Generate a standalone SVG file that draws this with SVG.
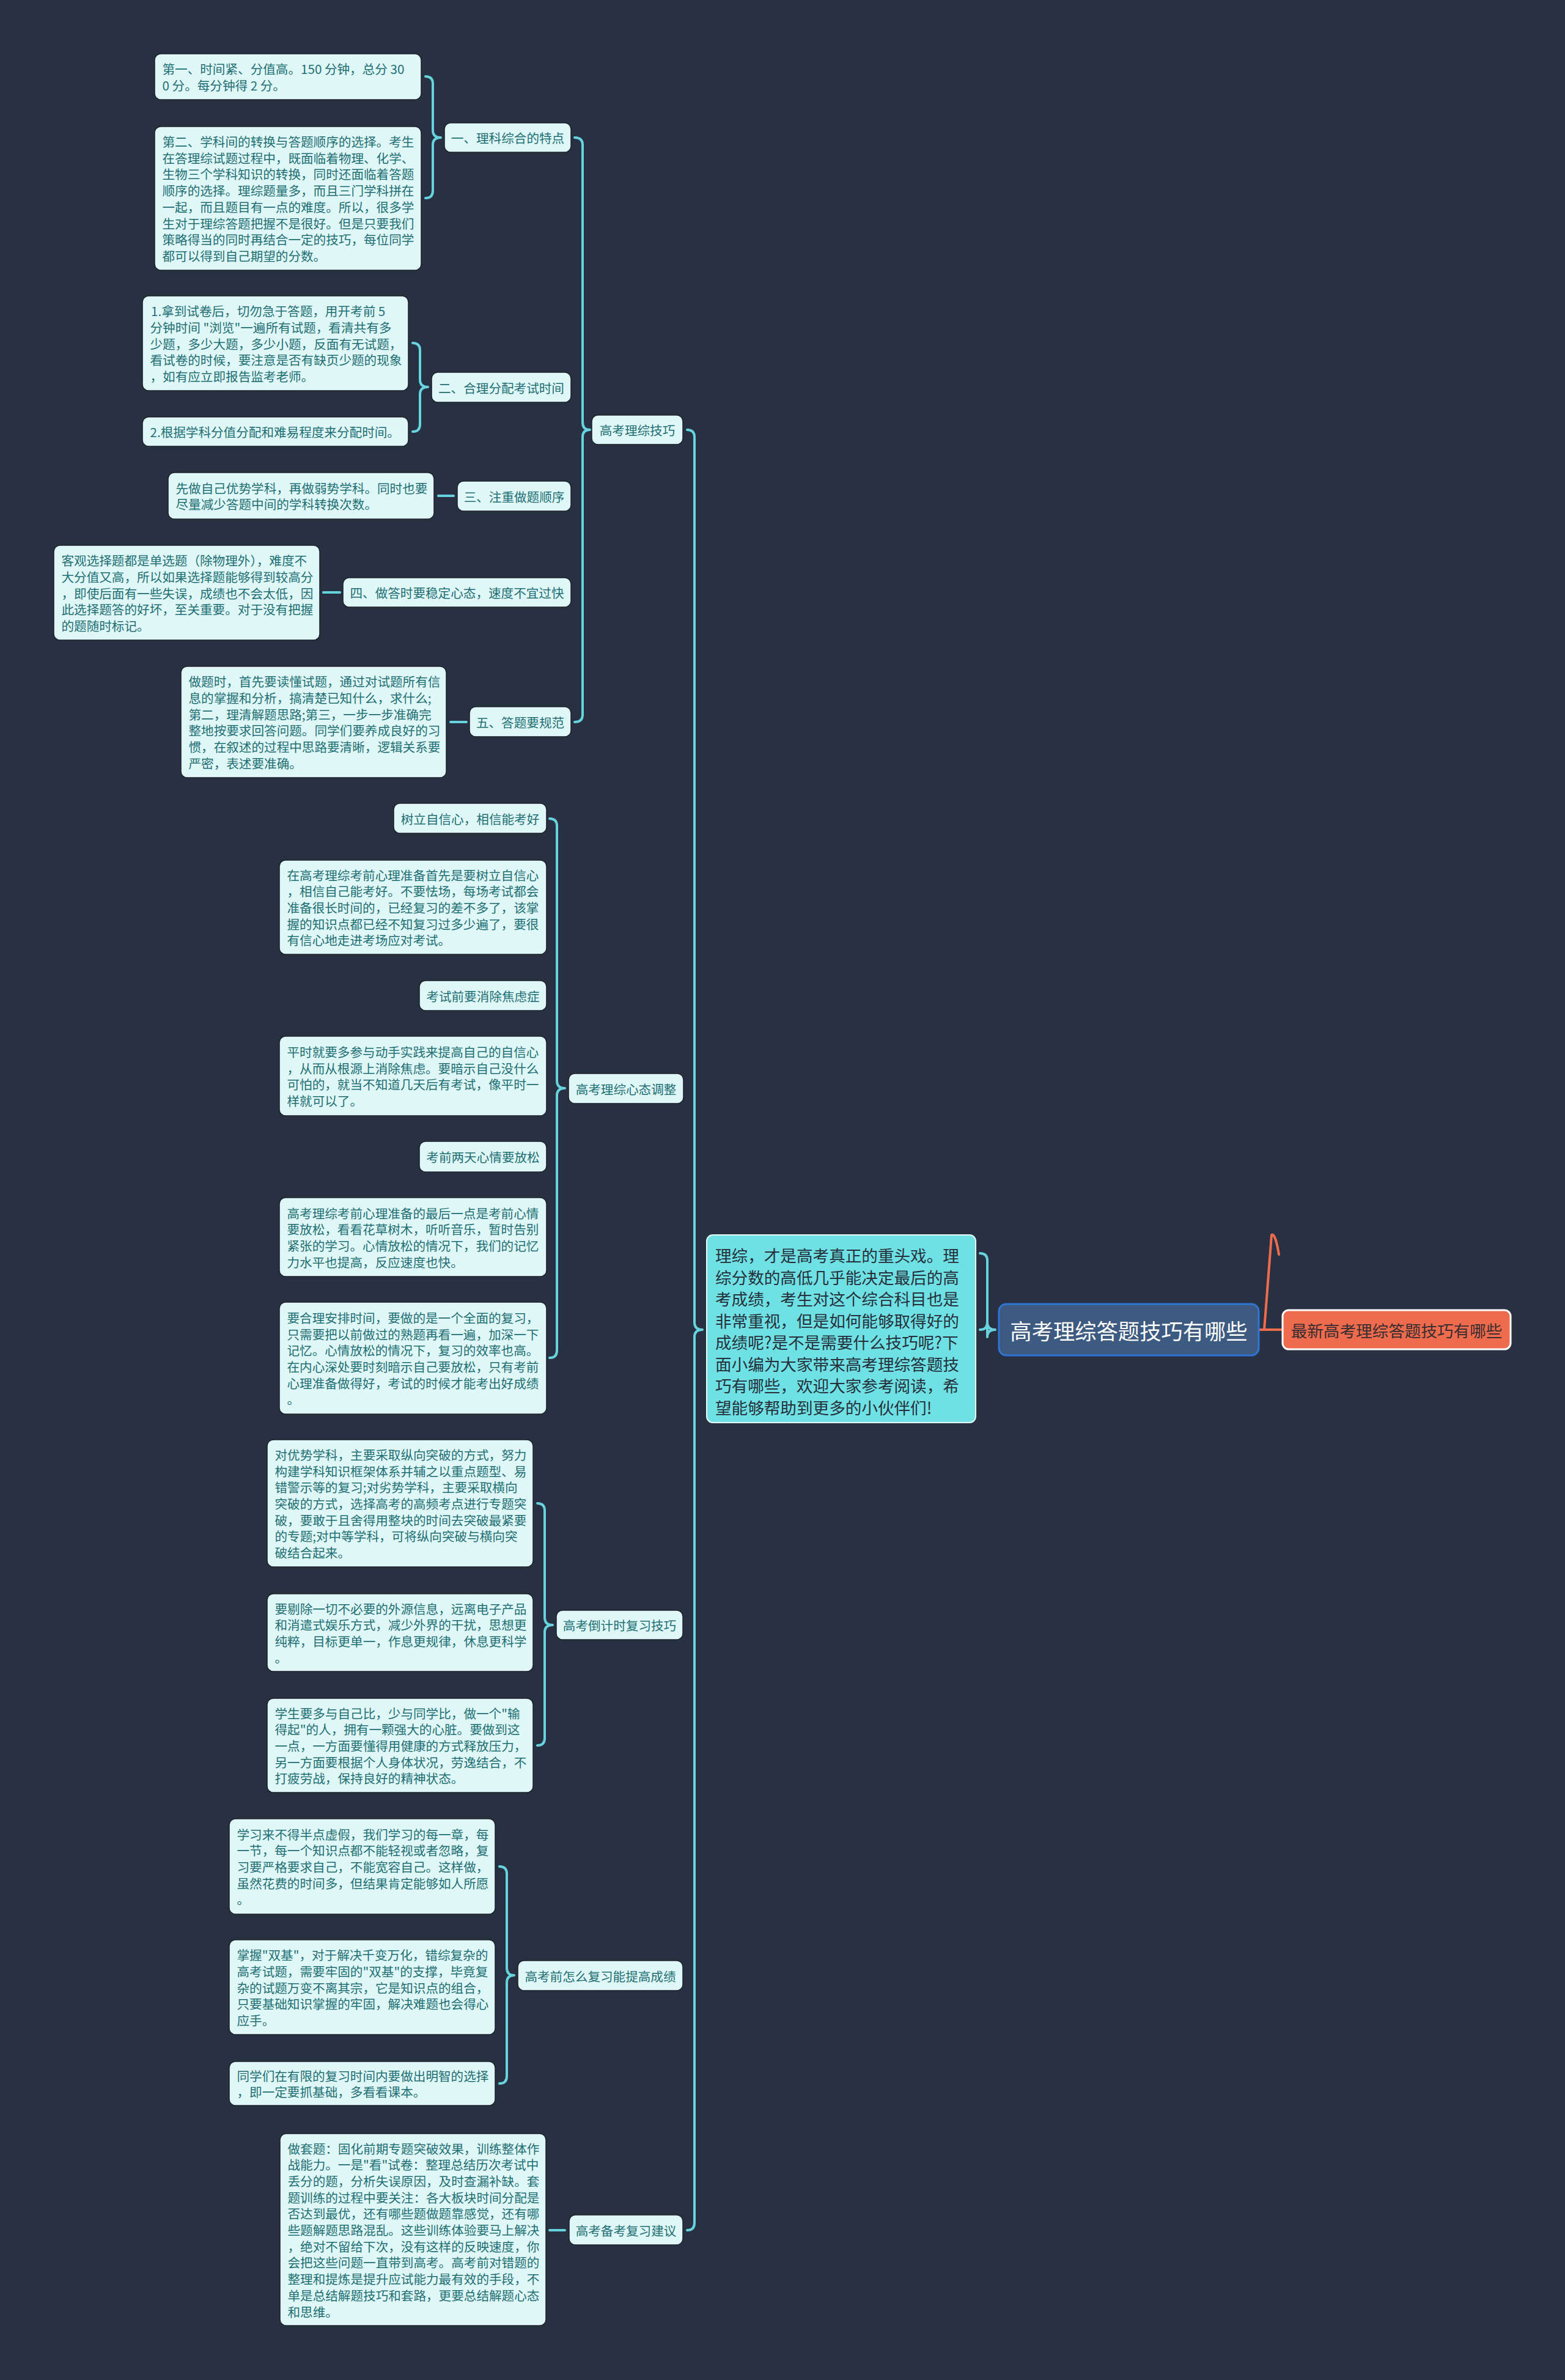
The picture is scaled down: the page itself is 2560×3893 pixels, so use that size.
<svg xmlns="http://www.w3.org/2000/svg" width="2560" height="3893" viewBox="0 0 2560 3893">
<style>
.bg{fill:#283141}
.lf{fill:#e0f7f8;stroke:#1b222c;stroke-width:1.5}
.t{font-family:"Noto Sans CJK SC","Noto Sans",sans-serif;font-size:20.6px;fill:#1d6f73;dominant-baseline:central}
.c{text-anchor:middle}
.br{fill:none;stroke:#67d3df;stroke-width:4;stroke-linecap:round;stroke-linejoin:round}
.or{fill:none;stroke:#ee6c4d;stroke-width:4;stroke-linecap:round;stroke-linejoin:round}
.cy{fill:#6fe0e3;stroke:#e6fbfc;stroke-width:2}
.ct{font-family:"Noto Sans CJK SC","Noto Sans",sans-serif;font-size:26.6px;fill:#25303b;dominant-baseline:central}
.rt{fill:#3d5a80;stroke:#2f74d6;stroke-width:3}
.rtt{font-family:"Noto Sans CJK SC","Noto Sans",sans-serif;font-size:35.3px;fill:#ffffff;dominant-baseline:central;text-anchor:middle}
.og{fill:#ee6c4d;stroke:#ffffff;stroke-width:3}
.ogt{font-family:"Noto Sans CJK SC","Noto Sans",sans-serif;font-size:26.6px;fill:#3a2c30;dominant-baseline:central;text-anchor:middle}
</style>
<rect class="bg" x="0" y="0" width="2560" height="3893"/>

<g id="connectors">
<path class="br" d="M1124,703 Q1136,703 1136,715 L1136,2163 Q1136,2175 1149,2175 Q1136,2175 1136,2187 L1136,3636 Q1136,3648 1124,3648"/>
<path class="br" d="M1603,2050 Q1615,2050 1615,2062 L1615,2163 Q1615,2175 1628,2175 Q1615,2175 1615,2187 L1615,2163 Q1615,2175 1603,2175"/>
<path class="or" d="M2092,2052 Q2086,2016 2080,2020 L2068,2175 M2060,2175 L2097,2175"/>
<path class="br" d="M940,225 Q953,225 953,237 L953,691 Q953,703 965,703 Q953,703 953,715 L953,1169 Q953,1181 940,1181"/>
<path class="br" d="M696,125 Q708,125 708,137 L708,213 Q708,225 721,225 Q708,225 708,237 L708,312 Q708,324 696,324"/>
<path class="br" d="M675,561 Q687,561 687,573 L687,621 Q687,633 700,633 Q687,633 687,645 L687,694 Q687,706 675,706"/>
<path class="br" d="M717,811 L742,811"/>
<path class="br" d="M529,969 L556,969"/>
<path class="br" d="M737,1181 L763,1181"/>
<path class="br" d="M899,1339 Q911,1339 911,1351 L911,1768 Q911,1780 924,1780 Q911,1780 911,1792 L911,2209 Q911,2221 899,2221"/>
<path class="br" d="M879,2459 Q891,2459 891,2471 L891,2646 Q891,2658 904,2658 Q891,2658 891,2670 L891,2843 Q891,2855 879,2855"/>
<path class="br" d="M817,3053 Q829,3053 829,3065 L829,3219 Q829,3231 841,3231 Q829,3231 829,3243 L829,3396 Q829,3408 817,3408"/>
<path class="br" d="M899,3648 L924,3648"/>
</g>

<g id="root">
<rect class="rt" x="1634" y="2133" width="425" height="84" rx="12"/>
<text class="rtt" x="1846.5" y="2175">高考理综答题技巧有哪些</text>
</g>
<g id="orange">
<rect class="og" x="2098" y="2143" width="373" height="64" rx="10"/>
<text class="ogt" x="2284.5" y="2175">最新高考理综答题技巧有哪些</text>
</g>
<g id="intro">
<rect class="cy" x="1156" y="2020" width="440" height="307" rx="10"/>
<text class="ct">
<tspan x="1170" y="2052">理综，才是高考真正的重头戏。理</tspan>
<tspan x="1170" y="2087.5">综分数的高低几乎能决定最后的高</tspan>
<tspan x="1170" y="2123">考成绩，考生对这个综合科目也是</tspan>
<tspan x="1170" y="2158.5">非常重视，但是如何能够取得好的</tspan>
<tspan x="1170" y="2194">成绩呢?是不是需要什么技巧呢?下</tspan>
<tspan x="1170" y="2229.5">面小编为大家带来高考理综答题技</tspan>
<tspan x="1170" y="2265">巧有哪些，欢迎大家参考阅读，希</tspan>
<tspan x="1170" y="2300.5">望能够帮助到更多的小伙伴们!</tspan>
</text>
</g>

<g id="b-jiqiao">
<rect class="lf" x="968" y="679" width="149" height="48" rx="10"/>
<text class="t c" x="1042.5" y="703">高考理综技巧</text>
</g>
<g id="b1">
<rect class="lf" x="727" y="201" width="207" height="48" rx="10"/>
<text class="t c" x="830.5" y="225">一、理科综合的特点</text>
</g>
<g id="l1a">
<rect class="lf" x="253" y="88" width="436" height="75" rx="10"/>
<text class="t"><tspan x="265.5" y="112.2">第一、时间紧、分值高。150 分钟，总分 30</tspan><tspan x="265.5" y="138.9">0 分。每分钟得 2 分。</tspan></text>
</g>
<g id="l1b">
<rect class="lf" x="253" y="207" width="436" height="235" rx="10"/>
<text class="t">
<tspan x="265.5" y="231">第二、学科间的转换与答题顺序的选择。考生</tspan>
<tspan x="265.5" y="257.7">在答理综试题过程中，既面临着物理、化学、</tspan>
<tspan x="265.5" y="284.4">生物三个学科知识的转换，同时还面临着答题</tspan>
<tspan x="265.5" y="311.1">顺序的选择。理综题量多，而且三门学科拼在</tspan>
<tspan x="265.5" y="337.8">一起，而且题目有一点的难度。所以，很多学</tspan>
<tspan x="265.5" y="364.5">生对于理综答题把握不是很好。但是只要我们</tspan>
<tspan x="265.5" y="391.2">策略得当的同时再结合一定的技巧，每位同学</tspan>
<tspan x="265.5" y="417.9">都可以得到自己期望的分数。</tspan>
</text>
</g>
<g id="b2">
<rect class="lf" x="706" y="609" width="228" height="49" rx="10"/>
<text class="t c" x="820" y="633.5">二、合理分配考试时间</text>
</g>
<g id="l2a">
<rect class="lf" x="233" y="484" width="435" height="155" rx="10"/>
<text class="t">
<tspan x="247" y="508.1">1.拿到试卷后，切勿急于答题，用开考前 5</tspan>
<tspan x="245.5" y="534.8">分钟时间 "浏览"一遍所有试题，看清共有多</tspan>
<tspan x="245.5" y="561.5">少题，多少大题，多少小题，反面有无试题，</tspan>
<tspan x="245.5" y="588.2">看试卷的时候，要注意是否有缺页少题的现象</tspan>
<tspan x="245.5" y="614.9">，如有应立即报告监考老师。</tspan>
</text>
</g>
<g id="l2b">
<rect class="lf" x="233" y="682" width="435" height="48" rx="10"/>
<text class="t" x="245.5" y="706">2.根据学科分值分配和难易程度来分配时间。</text>
</g>
<g id="b3">
<rect class="lf" x="748" y="787" width="186" height="49" rx="10"/>
<text class="t c" x="841" y="811.5">三、注重做题顺序</text>
</g>
<g id="l3">
<rect class="lf" x="275" y="773" width="435" height="76" rx="10"/>
<text class="t"><tspan x="287.5" y="797.6">先做自己优势学科，再做弱势学科。同时也要</tspan><tspan x="287.5" y="824.3">尽量减少答题中间的学科转换次数。</tspan></text>
</g>
<g id="b4">
<rect class="lf" x="561" y="945" width="373" height="48" rx="10"/>
<text class="t c" x="747.5" y="969">四、做答时要稳定心态，速度不宜过快</text>
</g>
<g id="l4">
<rect class="lf" x="88" y="892" width="435" height="155" rx="10"/>
<text class="t">
<tspan x="100.5" y="916.1">客观选择题都是单选题（除物理外），难度不</tspan>
<tspan x="100.5" y="942.8">大分值又高，所以如果选择题能够得到较高分</tspan>
<tspan x="100.5" y="969.5">，即使后面有一些失误，成绩也不会太低，因</tspan>
<tspan x="100.5" y="996.2">此选择题答的好坏，至关重要。对于没有把握</tspan>
<tspan x="100.5" y="1022.9">的题随时标记。</tspan>
</text>
</g>
<g id="b5">
<rect class="lf" x="768" y="1156" width="166" height="49" rx="10"/>
<text class="t c" x="851" y="1180.5">五、答题要规范</text>
</g>
<g id="l5">
<rect class="lf" x="296" y="1090" width="434" height="182" rx="10"/>
<text class="t">
<tspan x="308.5" y="1114.3">做题时，首先要读懂试题，通过对试题所有信</tspan>
<tspan x="308.5" y="1141">息的掌握和分析，搞清楚已知什么，求什么;</tspan>
<tspan x="308.5" y="1167.7">第二，理清解题思路;第三，一步一步准确完</tspan>
<tspan x="308.5" y="1194.4">整地按要求回答问题。同学们要养成良好的习</tspan>
<tspan x="308.5" y="1221.1">惯，在叙述的过程中思路要清晰，逻辑关系要</tspan>
<tspan x="308.5" y="1247.8">严密，表述要准确。</tspan>
</text>
</g>

<g id="b-xintai">
<rect class="lf" x="930" y="1756" width="188" height="49" rx="10"/>
<text class="t c" x="1024" y="1780.5">高考理综心态调整</text>
</g>
<g id="x1">
<rect class="lf" x="644" y="1314" width="250" height="49" rx="10"/>
<text class="t c" x="769" y="1338.5">树立自信心，相信能考好</text>
</g>
<g id="x2">
<rect class="lf" x="457" y="1407" width="437" height="154" rx="10"/>
<text class="t">
<tspan x="469.5" y="1430.6">在高考理综考前心理准备首先是要树立自信心</tspan>
<tspan x="469.5" y="1457.3">，相信自己能考好。不要怯场，每场考试都会</tspan>
<tspan x="469.5" y="1484">准备很长时间的，已经复习的差不多了，该掌</tspan>
<tspan x="469.5" y="1510.7">握的知识点都已经不知复习过多少遍了，要很</tspan>
<tspan x="469.5" y="1537.4">有信心地走进考场应对考试。</tspan>
</text>
</g>
<g id="x3">
<rect class="lf" x="686" y="1604" width="208" height="49" rx="10"/>
<text class="t c" x="790" y="1628.5">考试前要消除焦虑症</text>
</g>
<g id="x4">
<rect class="lf" x="457" y="1695" width="437" height="130" rx="10"/>
<text class="t">
<tspan x="469.5" y="1720">平时就要多参与动手实践来提高自己的自信心</tspan>
<tspan x="469.5" y="1746.7">，从而从根源上消除焦虑。要暗示自己没什么</tspan>
<tspan x="469.5" y="1773.4">可怕的，就当不知道几天后有考试，像平时一</tspan>
<tspan x="469.5" y="1800.1">样就可以了。</tspan>
</text>
</g>
<g id="x5">
<rect class="lf" x="686" y="1867" width="208" height="50" rx="10"/>
<text class="t c" x="790" y="1892">考前两天心情要放松</text>
</g>
<g id="x6">
<rect class="lf" x="457" y="1959" width="437" height="129" rx="10"/>
<text class="t">
<tspan x="469.5" y="1983.5">高考理综考前心理准备的最后一点是考前心情</tspan>
<tspan x="469.5" y="2010.2">要放松，看看花草树木，听听音乐，暂时告别</tspan>
<tspan x="469.5" y="2036.9">紧张的学习。心情放松的情况下，我们的记忆</tspan>
<tspan x="469.5" y="2063.6">力水平也提高，反应速度也快。</tspan>
</text>
</g>
<g id="x7">
<rect class="lf" x="457" y="2130" width="437" height="183" rx="10"/>
<text class="t">
<tspan x="469.5" y="2154.8">要合理安排时间，要做的是一个全面的复习，</tspan>
<tspan x="469.5" y="2181.5">只需要把以前做过的熟题再看一遍，加深一下</tspan>
<tspan x="469.5" y="2208.2">记忆。心情放松的情况下，复习的效率也高。</tspan>
<tspan x="469.5" y="2234.9">在内心深处要时刻暗示自己要放松，只有考前</tspan>
<tspan x="469.5" y="2261.6">心理准备做得好，考试的时候才能考出好成绩</tspan>
<tspan x="469.5" y="2288.3">。</tspan>
</text>
</g>

<g id="b-daojishi">
<rect class="lf" x="910" y="2634" width="207" height="48" rx="10"/>
<text class="t c" x="1013.5" y="2658">高考倒计时复习技巧</text>
</g>
<g id="d1">
<rect class="lf" x="437" y="2355" width="435" height="208" rx="10"/>
<text class="t">
<tspan x="449.5" y="2378.9">对优势学科，主要采取纵向突破的方式，努力</tspan>
<tspan x="449.5" y="2405.6">构建学科知识框架体系并辅之以重点题型、易</tspan>
<tspan x="449.5" y="2432.3">错警示等的复习;对劣势学科，主要采取横向</tspan>
<tspan x="449.5" y="2459">突破的方式，选择高考的高频考点进行专题突</tspan>
<tspan x="449.5" y="2485.7">破，要敢于且舍得用整块的时间去突破最紧要</tspan>
<tspan x="449.5" y="2512.4">的专题;对中等学科，可将纵向突破与横向突</tspan>
<tspan x="449.5" y="2539.1">破结合起来。</tspan>
</text>
</g>
<g id="d2">
<rect class="lf" x="437" y="2607" width="435" height="127" rx="10"/>
<text class="t">
<tspan x="449.5" y="2630.5">要剔除一切不必要的外源信息，远离电子产品</tspan>
<tspan x="449.5" y="2657.2">和消遣式娱乐方式，减少外界的干扰，思想更</tspan>
<tspan x="449.5" y="2683.9">纯粹，目标更单一，作息更规律，休息更科学</tspan>
<tspan x="449.5" y="2710.6">。</tspan>
</text>
</g>
<g id="d3">
<rect class="lf" x="437" y="2778" width="435" height="154" rx="10"/>
<text class="t">
<tspan x="449.5" y="2801.6">学生要多与自己比，少与同学比，做一个"输</tspan>
<tspan x="449.5" y="2828.3">得起"的人，拥有一颗强大的心脏。要做到这</tspan>
<tspan x="449.5" y="2855">一点，一方面要懂得用健康的方式释放压力，</tspan>
<tspan x="449.5" y="2881.7">另一方面要根据个人身体状况，劳逸结合，不</tspan>
<tspan x="449.5" y="2908.4">打疲劳战，保持良好的精神状态。</tspan>
</text>
</g>

<g id="b-fuxi">
<rect class="lf" x="847" y="3207" width="270" height="49" rx="10"/>
<text class="t c" x="982" y="3231.5">高考前怎么复习能提高成绩</text>
</g>
<g id="f1">
<rect class="lf" x="375" y="2975" width="435" height="156" rx="10"/>
<text class="t">
<tspan x="387.5" y="2999.6">学习来不得半点虚假，我们学习的每一章，每</tspan>
<tspan x="387.5" y="3026.3">一节，每一个知识点都不能轻视或者忽略，复</tspan>
<tspan x="387.5" y="3053">习要严格要求自己，不能宽容自己。这样做，</tspan>
<tspan x="387.5" y="3079.7">虽然花费的时间多，但结果肯定能够如人所愿</tspan>
<tspan x="387.5" y="3106.4">。</tspan>
</text>
</g>
<g id="f2">
<rect class="lf" x="375" y="3173" width="435" height="155" rx="10"/>
<text class="t">
<tspan x="387.5" y="3197.1">掌握"双基"，对于解决千变万化，错综复杂的</tspan>
<tspan x="387.5" y="3223.8">高考试题，需要牢固的"双基"的支撑，毕竟复</tspan>
<tspan x="387.5" y="3250.5">杂的试题万变不离其宗，它是知识点的组合，</tspan>
<tspan x="387.5" y="3277.2">只要基础知识掌握的牢固，解决难题也会得心</tspan>
<tspan x="387.5" y="3303.9">应手。</tspan>
</text>
</g>
<g id="f3">
<rect class="lf" x="375" y="3372" width="435" height="72" rx="10"/>
<text class="t"><tspan x="387.5" y="3394.7">同学们在有限的复习时间内要做出明智的选择</tspan><tspan x="387.5" y="3421.4">，即一定要抓基础，多看看课本。</tspan></text>
</g>

<g id="b-jianyi">
<rect class="lf" x="931" y="3623" width="186" height="49" rx="10"/>
<text class="t c" x="1024" y="3647.5">高考备考复习建议</text>
</g>
<g id="j1">
<rect class="lf" x="458" y="3490" width="435" height="314" rx="10"/>
<text class="t">
<tspan x="470.5" y="3513.5">做套题：固化前期专题突破效果，训练整体作</tspan>
<tspan x="470.5" y="3540.2">战能力。一是"看"试卷：整理总结历次考试中</tspan>
<tspan x="470.5" y="3566.9">丢分的题，分析失误原因，及时查漏补缺。套</tspan>
<tspan x="470.5" y="3593.6">题训练的过程中要关注：各大板块时间分配是</tspan>
<tspan x="470.5" y="3620.3">否达到最优，还有哪些题做题靠感觉，还有哪</tspan>
<tspan x="470.5" y="3647">些题解题思路混乱。这些训练体验要马上解决</tspan>
<tspan x="470.5" y="3673.7">，绝对不留给下次，没有这样的反映速度，你</tspan>
<tspan x="470.5" y="3700.4">会把这些问题一直带到高考。高考前对错题的</tspan>
<tspan x="470.5" y="3727.1">整理和提炼是提升应试能力最有效的手段，不</tspan>
<tspan x="470.5" y="3753.8">单是总结解题技巧和套路，更要总结解题心态</tspan>
<tspan x="470.5" y="3780.5">和思维。</tspan>
</text>
</g>
</svg>
